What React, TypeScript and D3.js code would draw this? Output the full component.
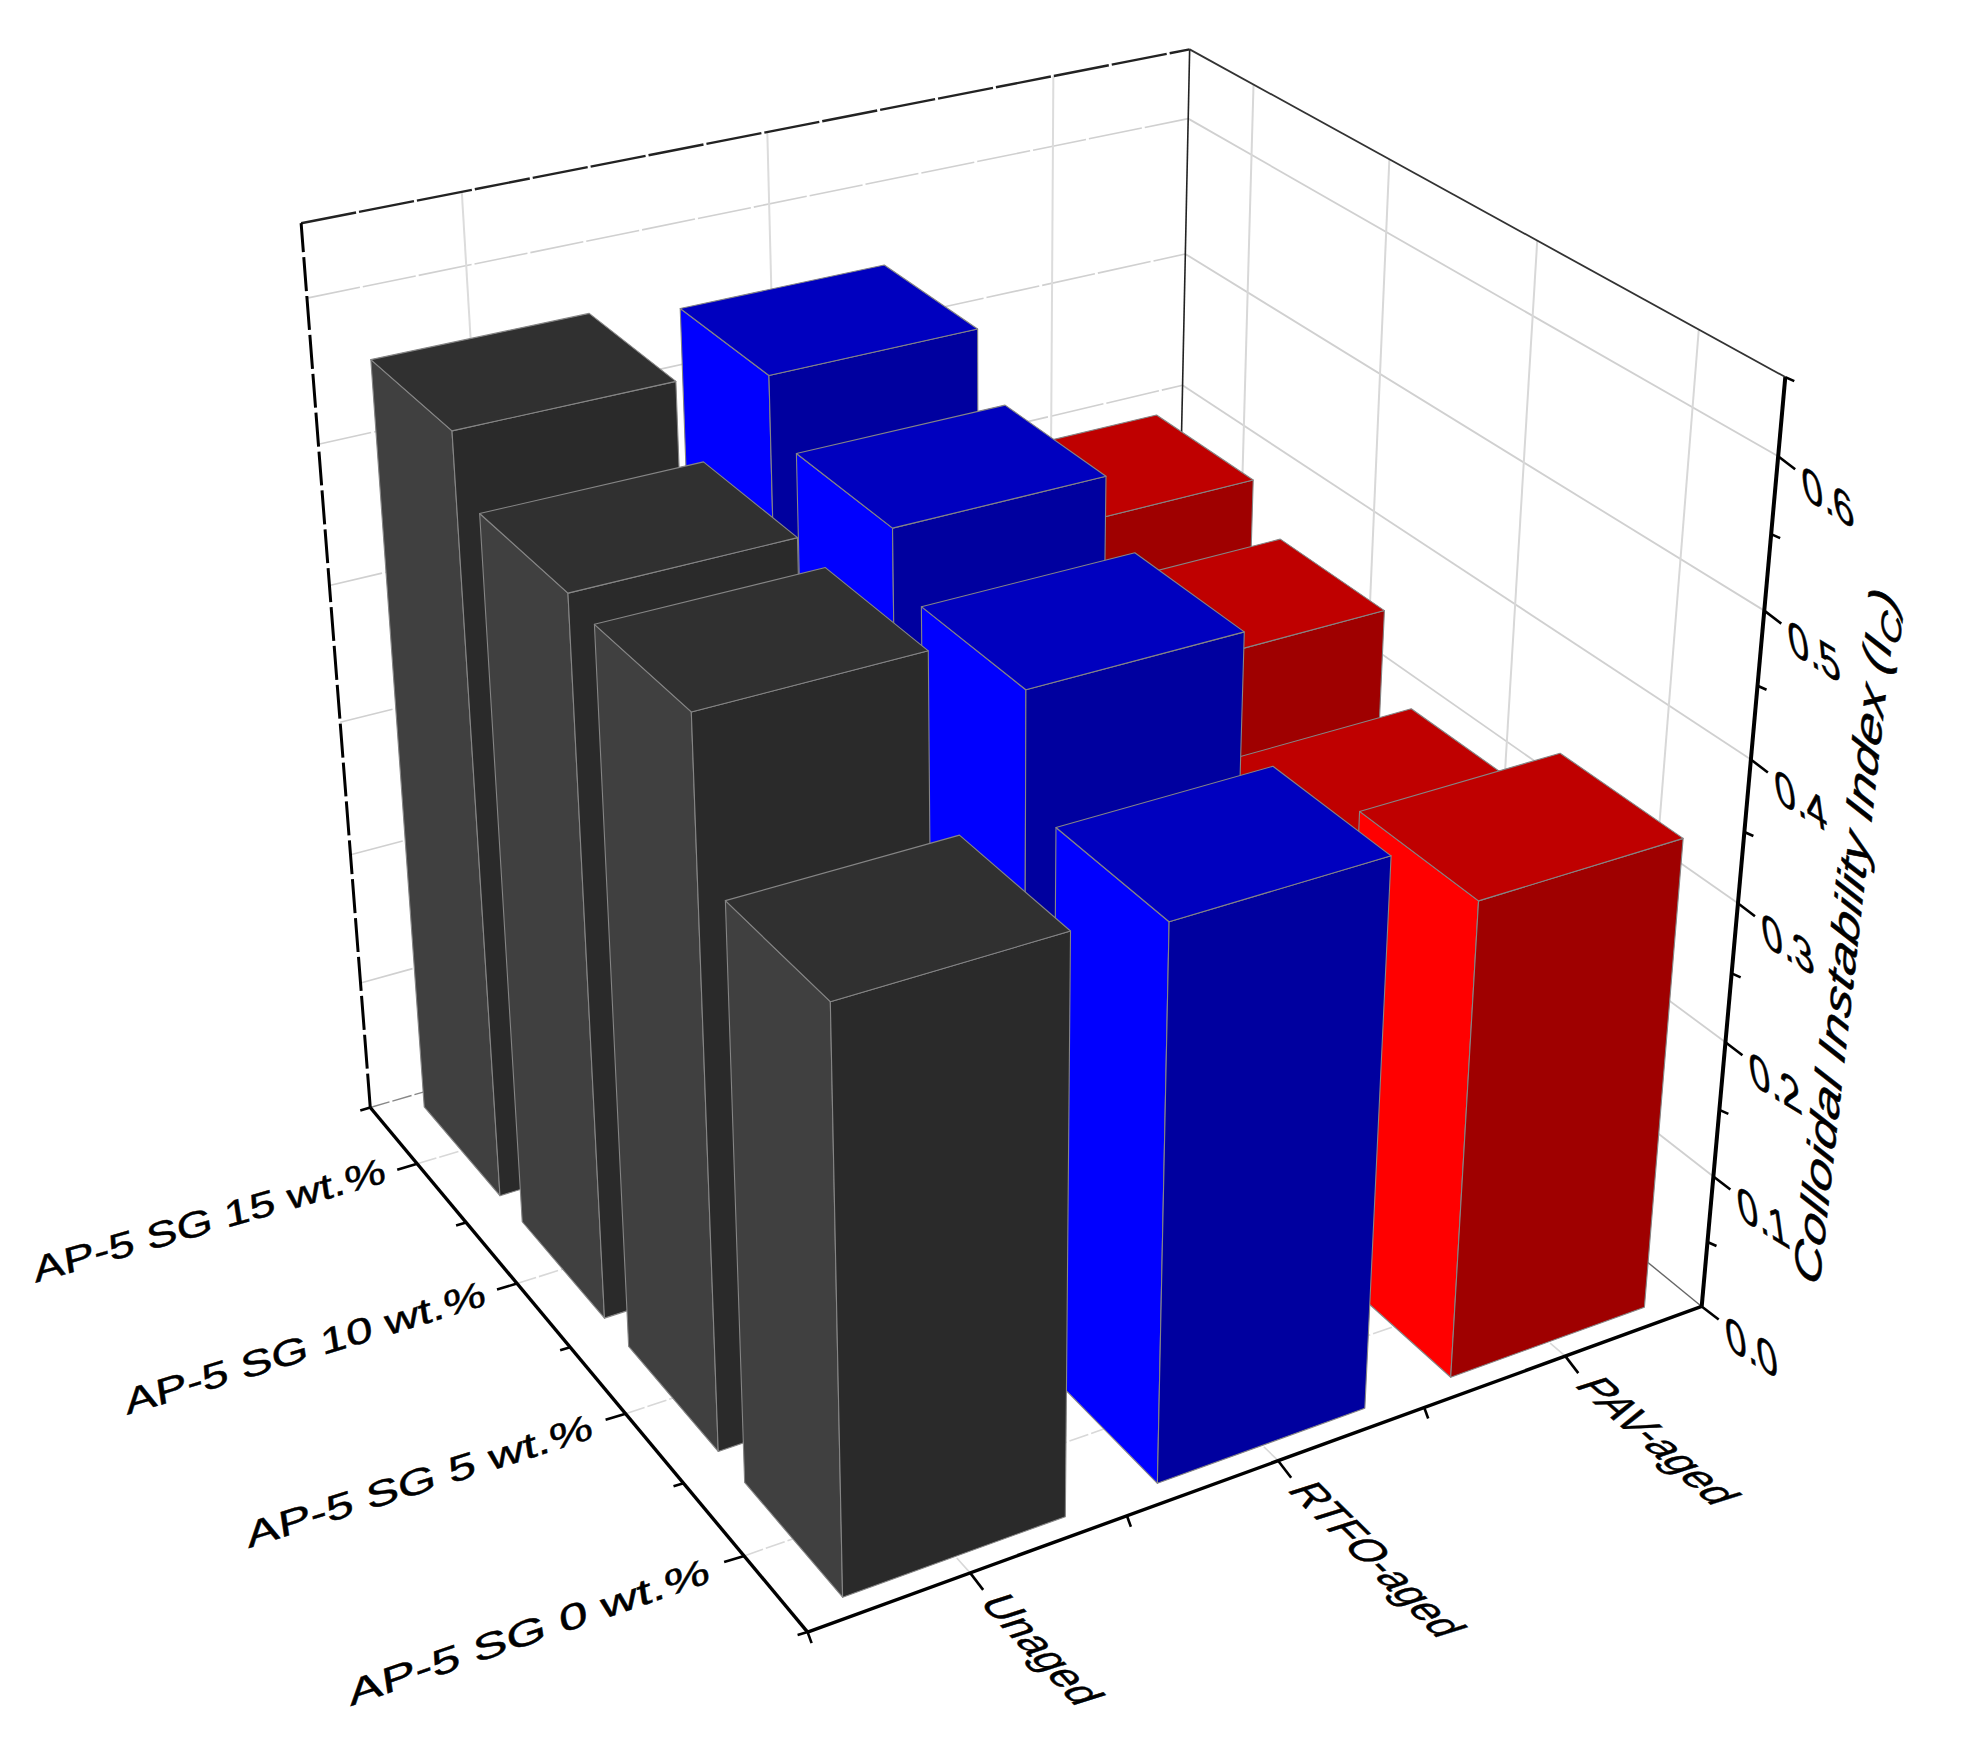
import React from "react";
import * as d3 from "d3";

const xCats = ["Unaged", "RTFO-aged", "PAV-aged"];
const yCats = ["AP-5 SG 0 wt.%", "AP-5 SG 5 wt.%", "AP-5 SG 10 wt.%", "AP-5 SG 15 wt.%"];
const zMajor = [0, 0.1, 0.2, 0.3, 0.4, 0.5, 0.6];
const zMinor = [0.05, 0.15, 0.25, 0.35, 0.45, 0.55, 0.65];
const zMax = 0.65;

// rows follow yCats, items follow xCats
const vals0 = [0.408, 0.395, 0.346];
const vals5 = [0.512, 0.47, 0.304];
const vals10 = [0.517, 0.508, 0.361];
const vals15 = [0.558, 0.548, 0.391];
const rows = [vals0, vals5, vals10, vals15];

const sideFill = ["#404040", "#0000ff", "#ff0000"];
const frontFill = ["#2a2a2a", "#00009f", "#9f0000"];
const topFill = ["#303030", "#0000bf", "#bf0000"];

const barW = 0.7;
const barD = 0.78;

// camera calibration: cube position -> pixel in the picture
const calib: number[][] = [
  [0, 0, 0, 808, 1632],
  [1, 0, 0, 1702, 1305],
  [0, 1, 0, 368, 1107],
  [1, 0, 1, 1785, 376],
  [0, 1, 1, 300, 224],
  [1, 1, 1, 1189, 48],
  [1, 0, 0.1 / zMax, 1713, 1175],
  [1, 0, 0.2 / zMax, 1726, 1042],
  [1, 0, 0.3 / zMax, 1739, 903],
  [1, 0, 0.4 / zMax, 1750, 762],
  [1, 0, 0.5 / zMax, 1765, 610],
  [1, 0, 0.6 / zMax, 1778, 457],
  [1, 1, 0.6 / zMax, 1187, 119],
  [1, 1, 0.4 / zMax, 1184, 387],
  [0, 1, 0.6 / zMax, 309, 297],
  [1 / 6, 0, 0, 969, 1572],
  [1 / 2, 0, 0, 1278, 1462],
  [5 / 6, 0, 0, 1565, 1357],
  [0, 1 / 8, 0, 742, 1557],
  [0, 3 / 8, 0, 627, 1413],
  [0, 5 / 8, 0, 520, 1285],
  [0, 7 / 8, 0, 417, 1163],
];

function solveCamera(): number[] {
  const S = 1000;
  const A: number[][] = [];
  const b: number[] = [];
  for (const [X, Y, Z, u0, v0] of calib) {
    const u = u0 / S;
    const v = v0 / S;
    A.push([X, Y, Z, 1, 0, 0, 0, 0, -u * X, -u * Y, -u * Z]);
    b.push(u);
    A.push([0, 0, 0, 0, X, Y, Z, 1, -v * X, -v * Y, -v * Z]);
    b.push(v);
  }
  const n = 11;
  const M: number[][] = Array.from({ length: n }, () => new Array(n + 1).fill(0));
  A.forEach((row, k) => {
    for (let i = 0; i < n; i++) {
      for (let j = 0; j < n; j++) M[i][j] += row[i] * row[j];
      M[i][n] += row[i] * b[k];
    }
  });
  for (let c = 0; c < n; c++) {
    let p = c;
    for (let r = c + 1; r < n; r++) if (Math.abs(M[r][c]) > Math.abs(M[p][c])) p = r;
    [M[c], M[p]] = [M[p], M[c]];
    for (let r = 0; r < n; r++) {
      if (r === c) continue;
      const f = M[r][c] / M[c][c];
      for (let k = c; k <= n; k++) M[r][k] -= f * M[c][k];
    }
  }
  return M.map((r, i) => r[n] / r[i]);
}
const cam = solveCamera();
function project(X: number, Y: number, Z: number): [number, number] {
  const w = cam[8] * X + cam[9] * Y + cam[10] * Z + 1;
  return [
    ((cam[0] * X + cam[1] * Y + cam[2] * Z + cam[3]) / w) * 1000,
    ((cam[4] * X + cam[5] * Y + cam[6] * Z + cam[7]) / w) * 1000,
  ];
}

const xScale = d3.scaleBand<string>().domain(xCats).range([0, 1]);
const yScale = d3.scaleBand<string>().domain(yCats).range([0, 1]);
const zScale = d3.scaleLinear().domain([0, zMax]).range([0, 1]);
const path = d3.line();
const poly = (pts: [number, number, number][]) => path(pts.map((p) => project(p[0], p[1], p[2]))) + "Z";
const seg = (a: [number, number, number], b: [number, number, number]) => path([project(...a), project(...b)]) || "";

const FONT = "'Liberation Sans', Arial, sans-serif";

function SkewText(p: {
  x: number; y: number; text?: string; base: [number, number]; down: [number, number];
  emX: number; emY: number; anchor?: string; italic?: boolean; children?: React.ReactNode;
}) {
  const fs = 40;
  const m = [
    (p.base[0] * p.emX) / fs, (p.base[1] * p.emX) / fs,
    (p.down[0] * p.emY) / fs, (p.down[1] * p.emY) / fs,
    p.x, p.y,
  ].join(" ");
  return (
    <text transform={`matrix(${m})`} fontFamily={FONT} fontSize={fs} fill="#000" stroke="#000" strokeWidth={0.5} textAnchor={p.anchor || "start"} fontStyle={p.italic ? "italic" : "normal"}>
      {p.text}{p.children}
    </text>
  );
}

const unit = (deg: number): [number, number] => [Math.cos((deg * Math.PI) / 180), Math.sin((deg * Math.PI) / 180)];

// label layout: end of baseline, angle, em width
const yLabelEnds: [number, number][] = [[711, 1582], [594, 1438], [487, 1305], [387, 1182]];
const yLabelAngle = [-19, -17.7, -17, -16];
const yLabelEm = [52.8, 50.2, 48.4, 47];
const xLabelAngle = [47, 44.5, 41];
const xLabelEm = [41, 40.5, 42.5];

export default function App() {
  const xTicks = xCats.map((c) => (xScale(c) as number) + xScale.bandwidth() / 2);
  const xMinor = [0, 1 / 3, 2 / 3];
  const yTicks = yCats.map((c) => (yScale(c) as number) + yScale.bandwidth() / 2);
  const yMinor = [0, 0.25, 0.5, 0.75, 1];

  const bars: { key: string; xi: number; x0: number; x1: number; y0: number; y1: number; z: number }[] = [];
  for (let yi = yCats.length - 1; yi >= 0; yi--) {
    for (let xi = xCats.length - 1; xi >= 0; xi--) {
      const bx = xScale.bandwidth();
      const by = yScale.bandwidth();
      const x0 = (xScale(xCats[xi]) as number) + (bx * (1 - barW)) / 2;
      const y0 = (yScale(yCats[yi]) as number) + (by * (1 - barD)) / 2;
      bars.push({ key: `${yi}-${xi}`, xi, x0, x1: x0 + bx * barW, y0, y1: y0 + by * barD, z: zScale(rows[yi][xi]) });
    }
  }
  const tick = (p: [number, number], dx: number, dy: number) => `M${p[0]},${p[1]}L${p[0] + dx},${p[1] + dy}`;

  return (
    <svg width={1962} height={1744} viewBox="0 0 1962 1744" style={{ position: "absolute", left: 0, top: 0, display: "block", background: "#fff" }}>
      {/* wall grid */}
      <g fill="none">
        {zMajor.slice(1).map((z) => (
          <path key={"lw" + z} d={seg([0, 1, zScale(z)], [1, 1, zScale(z)])} stroke="#d0d0d0" strokeWidth={1.6} strokeDasharray="54 3" />
        ))}
        {zMajor.slice(1).map((z) => (
          <path key={"rw" + z} d={seg([1, 1, zScale(z)], [1, 0, zScale(z)])} stroke="#d0d0d0" strokeWidth={1.8} />
        ))}
        {xTicks.map((x) => (
          <path key={"lv" + x} d={seg([x, 1, 0], [x, 1, 1])} stroke="#dcdcdc" strokeWidth={2} />
        ))}
        {yTicks.map((y) => (
          <path key={"rv" + y} d={seg([1, y, 0], [1, y, 1])} stroke="#d8d8d8" strokeWidth={2} />
        ))}
        {xTicks.map((x) => (
          <path key={"fx" + x} d={seg([x, 0, 0], [x, 1, 0])} stroke="#d8d8d8" strokeWidth={1.6} strokeDasharray="20 3" />
        ))}
        {yTicks.map((y) => (
          <path key={"fy" + y} d={seg([0, y, 0], [1, y, 0])} stroke="#d8d8d8" strokeWidth={1.6} strokeDasharray="20 3" />
        ))}
        <path d={seg([0, 1, 0], [1, 1, 0])} stroke="#888" strokeWidth={1.4} strokeDasharray="20 3" />
        <path d={seg([1, 0, 0], [1, 1, 0])} stroke="#666" strokeWidth={1.4} />
        <path d={seg([1, 1, 0], [1, 1, 1])} stroke="#222" strokeWidth={1.6} />
        <path d={seg([0, 1, 1], [1, 1, 1])} stroke="#222" strokeWidth={2.4} strokeDasharray="56 3" />
        <path d={seg([1, 1, 1], [1, 0, 1])} stroke="#333" strokeWidth={1.8} />
        <path d={seg([0, 1, 0], [0, 1, 1])} stroke="#000" strokeWidth={3} strokeDasharray="34 5" />
      </g>

      {/* bars, far to near */}
      <g stroke="#858585" strokeWidth={1.1} strokeLinejoin="round">
        {bars.map((b) => (
          <g key={b.key}>
            <path d={poly([[b.x0, b.y0, 0], [b.x0, b.y1, 0], [b.x0, b.y1, b.z], [b.x0, b.y0, b.z]])} fill={sideFill[b.xi]} />
            <path d={poly([[b.x0, b.y0, 0], [b.x1, b.y0, 0], [b.x1, b.y0, b.z], [b.x0, b.y0, b.z]])} fill={frontFill[b.xi]} />
            <path d={poly([[b.x0, b.y0, b.z], [b.x1, b.y0, b.z], [b.x1, b.y1, b.z], [b.x0, b.y1, b.z]])} fill={topFill[b.xi]} />
          </g>
        ))}
      </g>

      {/* axes */}
      <g fill="none" stroke="#000">
        <path d={seg([0, 0, 0], [0, 1, 0])} strokeWidth={3.4} />
        <path d={seg([0, 0, 0], [1, 0, 0])} strokeWidth={3.4} />
        <path d={seg([1, 0, 0], [1, 0, 1])} strokeWidth={4} />
        {yTicks.map((y) => <path key={"yt" + y} d={tick(project(0, y, 0), -20, 6)} strokeWidth={2.6} />)}
        {yMinor.map((y) => <path key={"ym" + y} d={tick(project(0, y, 0), -10, 3)} strokeWidth={2.6} />)}
        {xTicks.map((x) => <path key={"xt" + x} d={tick(project(x, 0, 0), 13, 17)} strokeWidth={2.6} />)}
        {xMinor.map((x) => <path key={"xm" + x} d={tick(project(x, 0, 0), 4, 11)} strokeWidth={2.6} />)}
        {zMajor.map((z) => <path key={"zt" + z} d={tick(project(1, 0, zScale(z)), 17, 13)} strokeWidth={2.6} />)}
        {zMinor.map((z) => <path key={"zm" + z} d={tick(project(1, 0, zScale(z)), 9, 4)} strokeWidth={2.6} />)}
      </g>

      {/* labels */}
      {yCats.map((c, i) => (
        <SkewText key={c} text={c} x={yLabelEnds[i][0]} y={yLabelEnds[i][1]} base={unit(yLabelAngle[i])} down={[0.15, 0.99]} emX={yLabelEm[i]} emY={36} anchor="end" />
      ))}
      {xCats.map((c, i) => {
        const p = project(xTicks[i], 0, 0);
        return <SkewText key={c} text={c} x={p[0] + 8} y={p[1] + 29} base={unit(xLabelAngle[i])} down={[-0.95, 0.3]} emX={xLabelEm[i]} emY={46} />;
      })}
      {zMajor.map((z) => {
        const p = project(1, 0, zScale(z));
        return <SkewText key={z} text={d3.format(".1f")(z)} x={p[0] + 26} y={p[1] + 42} base={[0.85, 0.52]} down={[0.135, 0.99]} emX={44} emY={50} />;
      })}
      <SkewText x={1819} y={1288} base={[0.112, -0.994]} down={[0.9, 0.43]} emX={54.5} emY={42} italic>
        Colloidal Instability Index (I<tspan fontSize={30} dy={8}>C</tspan><tspan dy={-8}>)</tspan>
      </SkewText>
    </svg>
  );
}
